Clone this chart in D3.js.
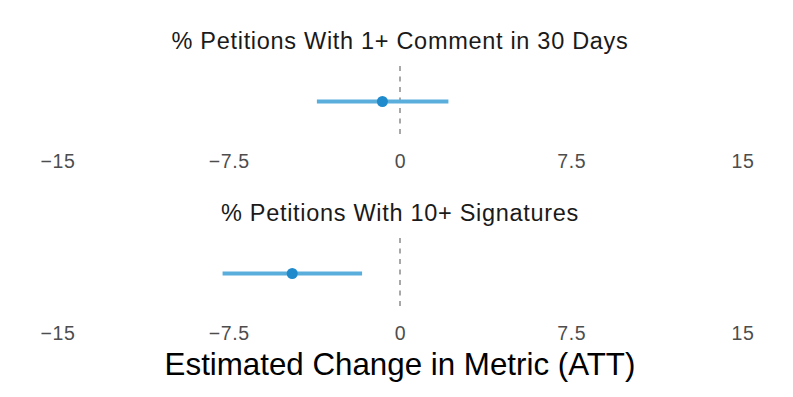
<!DOCTYPE html>
<html>
<head>
<meta charset="utf-8">
<script src="https://cdn.jsdelivr.net/npm/d3@7"></script>
<style>
  html, body { margin: 0; padding: 0; background: #fff; }
  svg { display: block; font-family: "Liberation Sans", Arial, Helvetica, sans-serif; }
</style>
</head>
<body>
<svg id="chart" width="793" height="397"></svg>
<script>
const metrics = ["% Petitions With 1+ Comment in 30 Days", "% Petitions With 10+ Signatures"];
const estimates = [-0.77, -4.72];
const lowerCI = [-3.64, -7.77];
const upperCI = [2.12, -1.66];
const tickValues = [-15, -7.5, 0, 7.5, 15];
const tickLabels = ["\u221215", "\u22127.5", "0", "7.5", "15"];
const xTitle = "Estimated Change in Metric (ATT)";

const svg = d3.select("#chart");
const x = d3.scaleLinear().domain([-15, 15]).range([57.5, 742.5]);

const panels = [
  { top: 66, bottom: 137, titleY: 48.5, tickY: 167.5 },
  { top: 238, bottom: 309, titleY: 220.5, tickY: 339.5 }
];

metrics.forEach((m, i) => {
  const p = panels[i];
  const g = svg.append("g");
  const cy = (p.top + p.bottom) / 2;

  g.append("text")
    .attr("x", 400).attr("y", p.titleY)
    .attr("text-anchor", "middle")
    .attr("font-size", 23.5).attr("letter-spacing", 0.7).attr("fill", "#1a1a1a")
    .text(m);

  g.append("line")
    .attr("x1", x(0)).attr("x2", x(0))
    .attr("y1", p.top).attr("y2", p.bottom)
    .attr("stroke", "#7a7a7a").attr("stroke-width", 1.3)
    .attr("stroke-dasharray", "5,5.5");

  g.append("line")
    .attr("x1", x(lowerCI[i])).attr("x2", x(upperCI[i]))
    .attr("y1", cy).attr("y2", cy)
    .attr("stroke", "#5aaedb").attr("stroke-width", 4);

  g.append("circle")
    .attr("cx", x(estimates[i])).attr("cy", cy).attr("r", 5.5)
    .attr("fill", "#1f8bcc");

  const axis = d3.axisBottom(x).tickValues(tickValues).tickSize(0)
    .tickFormat((d, j) => tickLabels[j]);
  const ag = g.append("g").attr("transform", `translate(0,${p.tickY})`).call(axis);
  ag.select(".domain").remove();
  ag.selectAll("text")
    .attr("y", 0).attr("dy", null)
    .attr("font-size", 19.5)
    .attr("letter-spacing", 0.6)
    .attr("font-family", "Liberation Sans, Arial, sans-serif")
    .attr("fill", "#4d4d4d");
});

svg.append("text")
  .attr("x", 400).attr("y", 375)
  .attr("text-anchor", "middle")
  .attr("font-size", 31.3).attr("fill", "#000")
  .text(xTitle);
</script>
</body>
</html>
